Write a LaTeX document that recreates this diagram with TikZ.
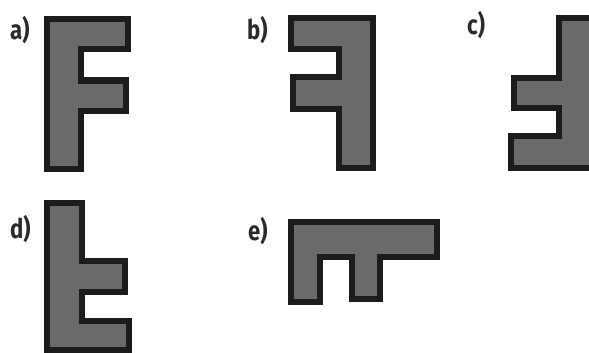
\documentclass[tikz,border=0pt]{standalone}
\usepackage{fontspec}
\setmainfont{Fira Sans}
\newfontfamily\lblfont[FakeStretch=0.82]{Fira Sans}
\usetikzlibrary{positioning}
\definecolor{PieceGray} {HTML}{6A6A6C}
\definecolor{EdgeBlack} {HTML}{1C1C1C}
\definecolor{LabelInk}  {HTML}{2A2A2A}
\tikzset{
  piece/.style={draw=EdgeBlack,fill=PieceGray,line width=6pt,line join=miter},
  lbl/.style={anchor=base west,inner sep=0pt,
              font=\lblfont\bfseries\fontsize{27}{27}\selectfont,text=LabelInk},
}

\begin{document}
\begin{tikzpicture}[x=1pt,y=-1pt]
  \useasboundingbox (0,0) rectangle (589,353);
  \clip (0,0) rectangle (589,353);

  % option a) -- the F
  \node[lbl] (la) at (10,40) {a)};
  \draw[piece] (46.5,19.5) -- (127.5,19.5) -- (127.5,49.5) -- (80.5,49.5)
    -- (80.5,80.5) -- (126,80.5) -- (126,110.5) -- (80.5,110.5)
    -- (80.5,168.5) -- (46.5,168.5) -- cycle;

  % option b) -- mirrored F
  \node[lbl] (lb) at (247,40) {b)};
  \draw[piece] (291,18) -- (372.5,18) -- (372.5,168) -- (338.5,168)
    -- (338.5,109) -- (293,109) -- (293,77) -- (338.5,77)
    -- (338.5,49.5) -- (291,49.5) -- cycle;

  % option c)
  \node[lbl] (lc) at (467,35) {c)};
  \draw[piece] (558.5,18.5) -- (610,18.5) -- (610,168) -- (510.5,168)
    -- (510.5,136) -- (558.5,136) -- (558.5,108) -- (513.5,108)
    -- (513.5,78) -- (558.5,78) -- cycle;

  % option d)
  \node[lbl] (ld) at (10,238) {d)};
  \draw[piece] (47,203) -- (81.5,203) -- (81.5,261) -- (125,261)
    -- (125,292) -- (81.5,292) -- (81.5,321) -- (129,321)
    -- (129,349.5) -- (47,349.5) -- cycle;

  % option e)
  \node[lbl] (le) at (248,240) {e)};
  \draw[piece] (290.5,222) -- (437,222) -- (437,256.5) -- (380,256.5)
    -- (380,299) -- (351.5,299) -- (351.5,256.5) -- (319.5,256.5)
    -- (319.5,302) -- (290.5,302) -- cycle;
\end{tikzpicture}
\end{document}
